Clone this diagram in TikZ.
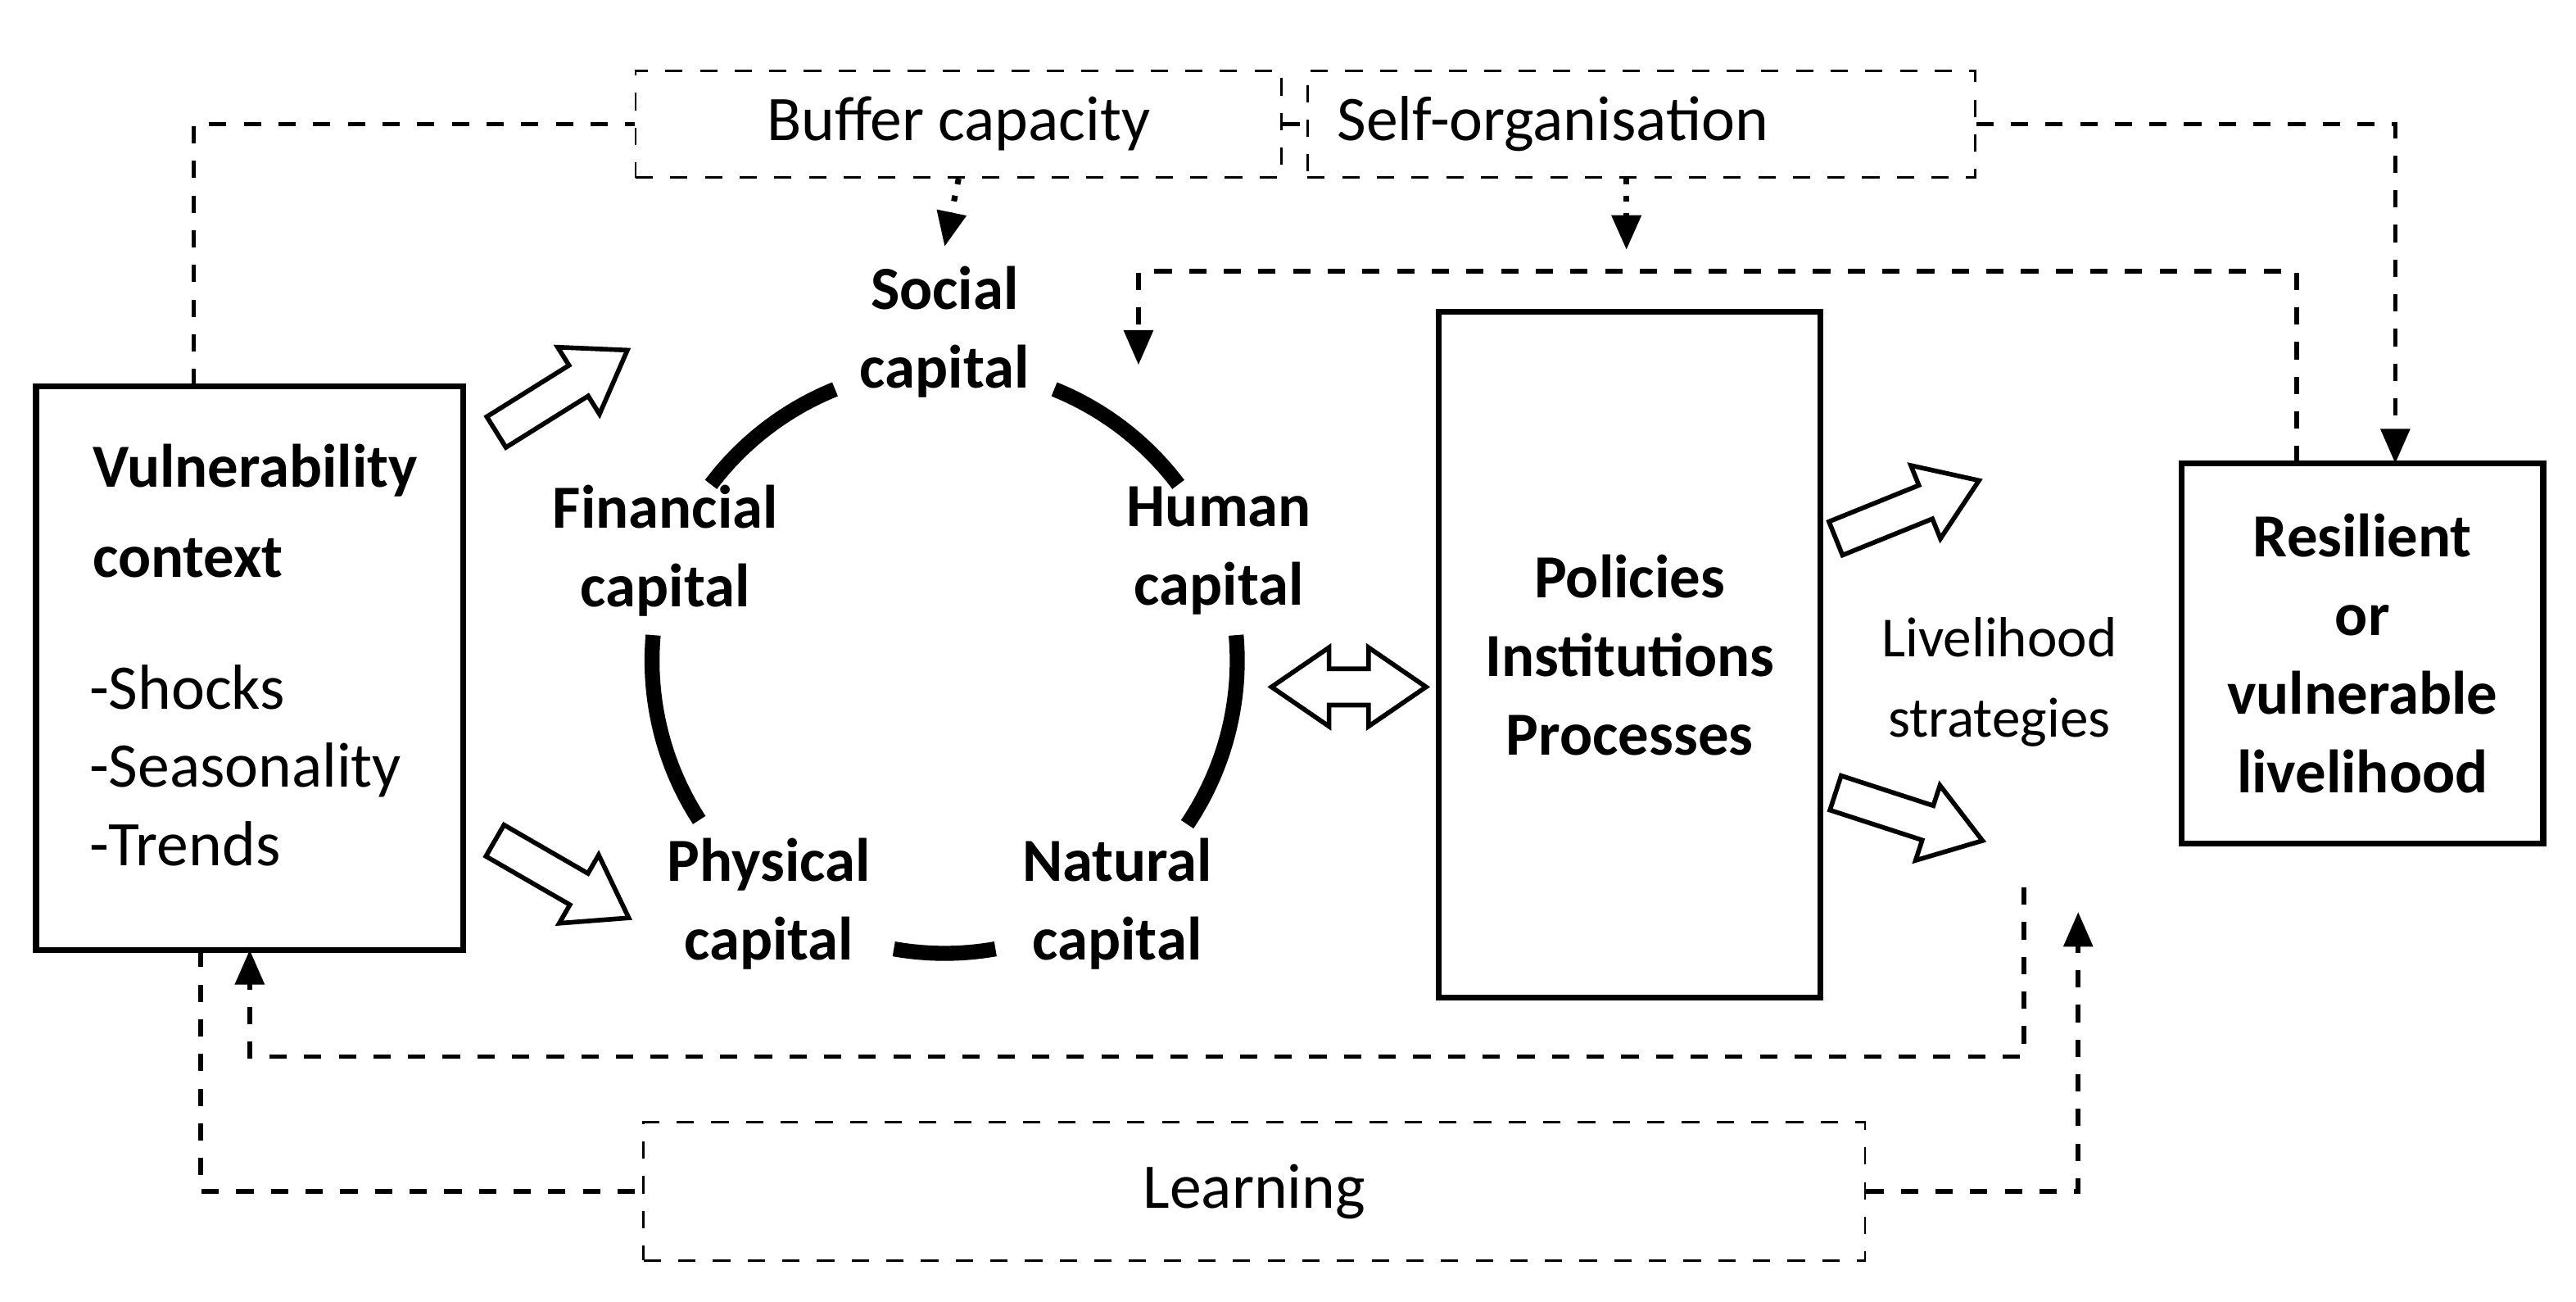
\documentclass[tikz,border=0pt]{standalone}
\usepackage{fontspec}
\setmainfont{Carlito}
\usetikzlibrary{arrows.meta,calc}
\begin{document}
\begin{tikzpicture}[x=0.01cm,y=-0.01cm,
  every node/.style={font=\fontsize{11}{14}\selectfont},
  dbox/.style={draw,dashed,thin,minimum height=0.65cm},
  sbox/.style={draw,line width=1pt},
  lbl/.style={font=\fontsize{10.6}{13.6}\selectfont\bfseries,align=center},
  dl/.style={dashed,line width=0.8pt},
  ar/.style={-{Triangle[length=6pt,width=5pt]}},
  arc/.style={line width=2.6pt},
  blk/.style={draw,line width=0.8pt,fill=white,line join=miter}]
\newcommand\blkarrow[2]{\draw[blk,shift={#1},rotate=#2,x=1cm,y=1cm] (-0.47,-0.11) -- (0.12,-0.11) -- (0.12,-0.24) -- (0.47,0) -- (0.12,0.24) -- (0.12,0.11) -- (-0.47,0.11) -- cycle;}
\useasboundingbox (0,0) rectangle (1568,792);
\node[dbox,minimum width=3.93cm] (buf) at (583.5,75.5) {Buffer capacity};
\node[dbox,minimum width=4.06cm,text width=3.7cm,align=left] (self) at (999,75.5) {Self-organisation};
\node[dbox,minimum width=7.43cm,minimum height=0.84cm] (learn) at (763.5,725) {Learning};
\node[sbox,minimum width=2.6cm,minimum height=3.43cm] (vul) at (152,406.5) {};
\node[lbl,align=left,anchor=north west] (vt) at (44,258) {Vulnerability\\[2pt]context};
\node[align=left,anchor=north west,font=\fontsize{11}{13.6}\selectfont] (vl) at (42,392) {-Shocks\\-Seasonality\\-Trends};
\node[sbox,minimum width=2.32cm,minimum height=4.17cm] (pol) at (992,398.5) {};
\node[lbl] at (pol) {Policies\\Institutions\\Processes};
\node[sbox,minimum width=2.2cm,minimum height=2.31cm,lbl] (res) at (1438,397.5) {Resilient\\or\\vulnerable\\livelihood};
\node[align=center,font=\fontsize{9.8}{12}\selectfont] (ls) at (1217,415) {Livelihood\\[2pt]strategies};
% capitals
\node[lbl] (soc) at (575,202) {Social\\capital};
\node[lbl] (fin) at (405,335) {Financial\\capital};
\node[lbl] (hum) at (742,335) {Human\\capital};
\node[lbl] (phy) at (468,550) {Physical\\capital};
\node[lbl] (nat) at (680,550) {Natural\\capital};
\coordinate (c) at (575,402);
\foreach \a/\b in {112/143,37/68,175/213,-34/5,260/280}
  \draw[arc] ($(c)+(\a:1.78cm)$) arc[start angle=\a,end angle=\b,radius=1.78cm];
% block arrows
\blkarrow{(342,238)}{32}
\blkarrow{(342,535)}{-30}
\draw[blk,shift={(821,418)},x=1cm,y=1cm] (-0.12,-0.11) -- (0.12,-0.11) -- (0.12,-0.24) -- (0.47,0) -- (0.12,0.24) -- (0.12,0.11) -- (-0.12,0.11) -- (-0.12,0.24) -- (-0.47,0) -- (-0.12,-0.24) -- cycle;
\blkarrow{(1161,310)}{22}
\blkarrow{(1162,497)}{-18}
% dashed connectors
\coordinate (v1) at (118,235);
\draw[dl] (v1) |- (buf.west);
\draw[dl] (buf.east) -- (self.west);
\coordinate (r1) at (1458,282);
\draw[dl,ar] (self.east) -| (r1);
\coordinate (b1) at (575,150);
\draw[dotted,line width=1pt,ar] (buf.south) -- (b1);
\coordinate (s1) at (990,152);
\draw[dotted,line width=1pt,ar] (self.south -| s1) -- (s1);
\coordinate (r2) at (1398,282);
\coordinate (h1) at (693,222);
\draw[dl,ar] (r2) -- (1398,165) -| (h1);
\coordinate (l1) at (1232,540);
\coordinate (v2) at (152,578);
\draw[dl,ar] (l1) -- (1232,643) -| (v2);
\coordinate (v3) at (122,578);
\draw[dl] (v3) |- (learn.west);
\coordinate (l2) at (1265,555);
\draw[dl,ar] (learn.east) -| (l2);
\end{tikzpicture}
\end{document}
